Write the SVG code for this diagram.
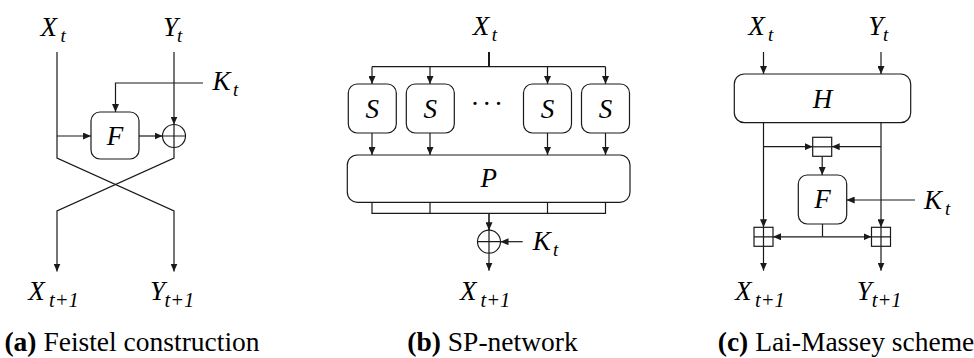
<svg xmlns="http://www.w3.org/2000/svg" width="974" height="358" viewBox="0 0 974 358">
<style>
  .ln{fill:none;stroke:#1a1a1a;stroke-width:1.2}
  .ar{fill:none;stroke:#1a1a1a;stroke-width:1.2;marker-end:url(#ah)}
  .box{fill:#fff;stroke:#1a1a1a;stroke-width:1.2}
  .m{font-family:"Liberation Serif","Times New Roman",serif;font-style:italic;font-size:27px;fill:#000}
  .s{font-size:19px}
  .s2{font-size:20.5px}
  .c{font-family:"Liberation Serif","Times New Roman",serif;font-size:27.5px;fill:#000;text-anchor:middle}
  .mid{text-anchor:middle}
</style>
<defs>
  <marker id="ah" markerUnits="userSpaceOnUse" markerWidth="8" markerHeight="7" refX="8" refY="3.5" orient="auto">
    <path d="M0,0 L8,3.5 L0,7 z" fill="#1a1a1a"/>
  </marker>
</defs>

<g id="connectors">
  <!-- (a) Feistel -->
  <path class="ar" d="M57,52 V158 L174,211 V271.5"/>
  <path class="ar" d="M174,52 V124.5"/>
  <path class="ar" d="M174,147.5 V158 L57,211 V271.5"/>
  <path class="ar" d="M57,136 H91"/>
  <path class="ar" d="M139,136 H162.5"/>
  <path class="ar" d="M203,83 H115.5 V112"/>
  <!-- (b) SP-network -->
  <path class="ln" d="M489,52 V66.7" style="stroke-width:2"/>
  <path class="ln" d="M372,66.7 H605.5"/>
  <path class="ar" d="M372,66.7 V84"/>
  <path class="ar" d="M430,66.7 V84"/>
  <path class="ar" d="M547.5,66.7 V84"/>
  <path class="ar" d="M605.5,66.7 V84"/>
  <path class="ar" d="M372,133 V155"/>
  <path class="ar" d="M430,133 V155"/>
  <path class="ar" d="M547.5,133 V155"/>
  <path class="ar" d="M605.5,133 V155"/>
  <path class="ln" d="M372,202.3 V213.3 H605.5 V202.3 M430,202.3 V213.3 M547.5,202.3 V213.3"/>
  <path class="ar" d="M489,213.3 V230.2" style="stroke-width:1.6"/>
  <path class="ar" d="M522.7,241.7 H500.5"/>
  <path class="ar" d="M489,253.2 V270.7"/>
  <!-- (c) Lai-Massey -->
  <path class="ar" d="M763.5,52 V74"/>
  <path class="ar" d="M881,52 V74"/>
  <path class="ar" d="M763.5,122.7 V227.3"/>
  <path class="ar" d="M881,122.7 V227.3"/>
  <path class="ar" d="M763.5,146.7 H812.7"/>
  <path class="ar" d="M881,146.7 H831.7"/>
  <path class="ar" d="M822.2,156.3 V175"/>
  <path class="ar" d="M915,200 H846.7"/>
  <path class="ln" d="M822.5,224 V236.8"/>
  <path class="ar" d="M822.5,236.8 H773"/>
  <path class="ar" d="M822.5,236.8 H871.5"/>
  <path class="ar" d="M763.5,246.3 V270.7"/>
  <path class="ar" d="M881,246.3 V270.7"/>
</g>

<!-- (a) Feistel construction -->
<g id="a-F">
  <rect class="box" x="91" y="112" width="48" height="47" rx="9"/>
  <text class="m mid" x="115" y="145">F</text>
</g>
<g id="a-xor">
  <circle class="box" cx="174" cy="136" r="11.5"/>
  <path class="ln" d="M162.5,136 H185.5 M174,124.5 V147.5"/>
</g>
<g id="a-Xt"><text class="m" x="40.5" y="36">X<tspan class="s" x="60.5" y="41.5">t</tspan></text></g>
<g id="a-Yt"><text class="m" x="163" y="36">Y<tspan class="s" x="177" y="41.5">t</tspan></text></g>
<g id="a-Kt"><text class="m" x="212.5" y="90">K<tspan class="s" x="233" y="95.5">t</tspan></text></g>
<g id="a-Xt1"><text class="m" x="28.3" y="300">X<tspan class="s2" x="49" y="306.5">t+1</tspan></text></g>
<g id="a-Yt1"><text class="m" x="150" y="300">Y<tspan class="s2" x="164.5" y="306.5">t+1</tspan></text></g>
<g id="a-caption"><text class="c" x="132" y="351"><tspan font-weight="bold">(a)</tspan> Feistel construction</text></g>

<!-- (b) SP-network -->
<g id="b-Xt"><text class="m" x="472.7" y="35">X<tspan class="s" x="491.7" y="41">t</tspan></text></g>
<g id="b-S1"><rect class="box" x="348.3" y="84" width="48" height="49" rx="9"/><text class="m mid" x="372.3" y="118">S</text></g>
<g id="b-S2"><rect class="box" x="406.3" y="84" width="48" height="49" rx="9"/><text class="m mid" x="430.3" y="118">S</text></g>
<g id="b-dots"><text class="m mid" x="475 486.7 498.4" y="113" style="font-style:normal">···</text></g>
<g id="b-S3"><rect class="box" x="523.5" y="84" width="48" height="49" rx="9"/><text class="m mid" x="547.5" y="118">S</text></g>
<g id="b-S4"><rect class="box" x="581.5" y="84" width="48" height="49" rx="9"/><text class="m mid" x="605.5" y="118">S</text></g>
<g id="b-P"><rect class="box" x="347.3" y="155" width="282.7" height="47.3" rx="10"/><text class="m mid" x="488.7" y="187">P</text></g>
<g id="b-xor">
  <circle class="box" cx="489" cy="241.7" r="11.5"/>
  <path class="ln" d="M477.5,241.7 H500.5 M489,230.2 V253.2"/>
</g>
<g id="b-Kt"><text class="m" x="532.7" y="250">K<tspan class="s" x="553" y="255.5">t</tspan></text></g>
<g id="b-Xt1"><text class="m" x="460" y="300">X<tspan class="s2" x="480.5" y="306.5">t+1</tspan></text></g>
<g id="b-caption"><text class="c" x="492.5" y="351"><tspan font-weight="bold">(b)</tspan> SP-network</text></g>

<!-- (c) Lai-Massey scheme -->
<g id="c-Xt"><text class="m" x="748.3" y="35">X<tspan class="s" x="768" y="41">t</tspan></text></g>
<g id="c-Yt"><text class="m" x="868.3" y="35">Y<tspan class="s" x="883" y="41">t</tspan></text></g>
<g id="c-H"><rect class="box" x="734.3" y="74" width="176.4" height="48.7" rx="10"/><text class="m mid" x="822.5" y="108">H</text></g>
<g id="c-boxminus">
  <rect class="box" x="812.7" y="137.3" width="19" height="19"/>
  <path class="ln" d="M812.7,146.8 H831.7"/>
</g>
<g id="c-F"><rect class="box" x="798.3" y="175" width="48.4" height="49" rx="9"/><text class="m mid" x="822.5" y="208">F</text></g>
<g id="c-Kt"><text class="m" x="924" y="209">K<tspan class="s" x="945" y="214.5">t</tspan></text></g>
<g id="c-boxplus-l">
  <rect class="box" x="754" y="227.3" width="19" height="19"/>
  <path class="ln" d="M754,236.8 H773 M763.5,227.3 V246.3"/>
</g>
<g id="c-boxplus-r">
  <rect class="box" x="871.5" y="227.3" width="19" height="19"/>
  <path class="ln" d="M871.5,236.8 H890.5 M881,227.3 V246.3"/>
</g>
<g id="c-Xt1"><text class="m" x="735" y="300">X<tspan class="s2" x="755" y="306.5">t+1</tspan></text></g>
<g id="c-Yt1"><text class="m" x="856.7" y="300">Y<tspan class="s2" x="871.7" y="306.5">t+1</tspan></text></g>
<g id="c-caption"><text class="c" x="846" y="351"><tspan font-weight="bold">(c)</tspan> Lai-Massey scheme</text></g>
</svg>
